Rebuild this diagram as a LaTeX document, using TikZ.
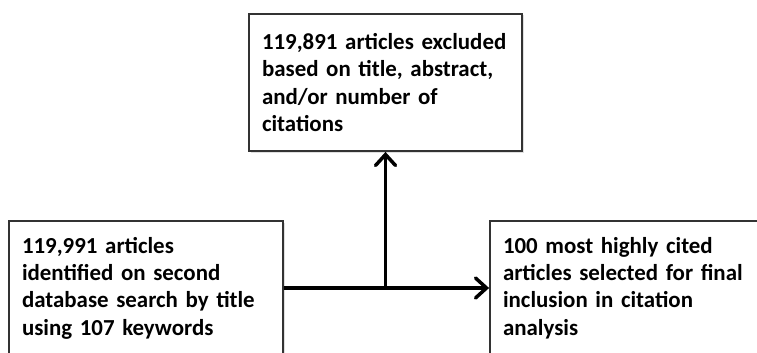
\documentclass[tikz,border=0pt]{standalone}
\usepackage{fontspec}
\setmainfont{Carlito}
\usepackage{tikz}
\usetikzlibrary{arrows.meta, shadows}

\begin{document}
\begin{tikzpicture}[x=1pt,y=1pt,yscale=-1,
  stagebox/.style={draw={rgb, 255:red, 51; green, 51; blue, 51}, line width=1.8pt, fill=white,
    align=left, text width=248pt, inner xsep=13pt, inner ysep=0pt,
    font=\fontsize{22.9}{27.3}\selectfont\bfseries,
    drop shadow={shadow xshift=1.5pt, shadow yshift=-1.5pt, opacity=0.25}},
  flowline/.style={line width=3.5pt, -{Straight Barb[length=11pt, width=20pt, line cap=round]}}]
\useasboundingbox (0,0) rectangle (757,353);
\clip (0,0) rectangle (757,353);

% Boxes
\node [stagebox, minimum height=134pt] (identified) at (146,288) {119,991 articles\\identified on second\\database search by title\\using 107 keywords};
\node [stagebox, text width=247pt, minimum height=137pt] (excluded) at (385.5,82.5) {119,891 articles excluded\\based on title, abstract,\\and/or number of\\citations};
\node [stagebox, minimum height=134pt] (selected) at (627,288) {100 most highly cited\\articles selected for final\\inclusion in citation\\analysis};

% Arrows
\draw [flowline] (identified.east) -- (selected.west);
\draw [flowline] (identified.east -| excluded.south) -- (excluded.south);

\end{tikzpicture}
\end{document}
